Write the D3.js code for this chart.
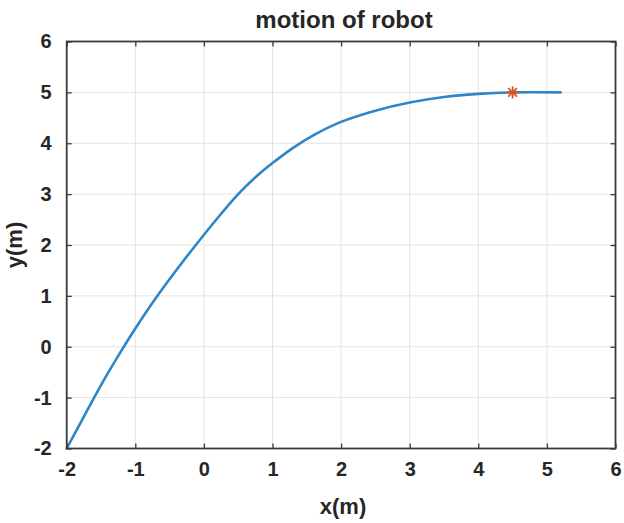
<!DOCTYPE html>
<html>
<head>
<meta charset="utf-8">
<script src="https://cdn.jsdelivr.net/npm/d3@7"></script>
<style>
  html, body { margin: 0; padding: 0; background: #fff; }
  svg { display: block; }
  text { font-family: "Liberation Sans", Arial, Helvetica, sans-serif; font-weight: bold; fill: #262626; }
</style>
</head>
<body>
<svg id="chart" width="624" height="523"></svg>
<script>
// Robot trajectory samples (x, y in metres)
const pathX = [-2.00, -1.80, -1.60, -1.40, -1.20, -1.00, -0.70, -0.40, -0.10, 0.20, 0.50, 0.80, 1.00, 1.30, 1.60, 2.00, 2.50, 3.00, 3.50, 4.00, 4.50, 5.20];
const pathY = [-2.00, -1.50, -1.00, -0.52, -0.07, 0.36, 0.96, 1.51, 2.03, 2.53, 3.00, 3.39, 3.61, 3.91, 4.16, 4.42, 4.64, 4.80, 4.91, 4.97, 5.00, 5.00];

// Goal point marked with an asterisk
const goalX = [4.5];
const goalY = [5.0];

// Axis ticks
const xTicks = [-2, -1, 0, 1, 2, 3, 4, 5, 6];
const yTicks = [-2, -1, 0, 1, 2, 3, 4, 5, 6];

const svg = d3.select("#chart");
const plot = { left: 66.7, right: 615.5, top: 41.5, bottom: 448.5 };

const x = d3.scaleLinear().domain([-2, 6]).range([plot.left, plot.right]);
const y = d3.scaleLinear().domain([-2, 6]).range([plot.bottom, plot.top]);

// Grid
const grid = svg.append("g").attr("stroke", "#e3e3e3").attr("stroke-width", 1);
grid.selectAll("line.gx").data(xTicks).join("line")
  .attr("x1", d => x(d)).attr("x2", d => x(d))
  .attr("y1", plot.top).attr("y2", plot.bottom);
grid.selectAll("line.gy").data(yTicks).join("line")
  .attr("y1", d => y(d)).attr("y2", d => y(d))
  .attr("x1", plot.left).attr("x2", plot.right);

// Trajectory
const pts = pathX.map((v, i) => [v, pathY[i]]);
const line = d3.line().x(d => x(d[0])).y(d => y(d[1])).curve(d3.curveCatmullRom.alpha(0.5));
svg.append("path").datum(pts)
  .attr("d", line)
  .attr("fill", "none")
  .attr("stroke", "#2d86c8")
  .attr("stroke-width", 2.6)
  .attr("stroke-linejoin", "round")
  .attr("stroke-linecap", "round");

// Goal asterisk
const star = svg.append("g").attr("stroke", "#d95319").attr("stroke-width", 1.8);
goalX.forEach((gx, i) => {
  const cx = x(gx), cy = y(goalY[i]), r = 6;
  star.append("line").attr("x1", cx - r).attr("x2", cx + r).attr("y1", cy).attr("y2", cy);
  star.append("line").attr("x1", cx).attr("x2", cx).attr("y1", cy - r).attr("y2", cy + r);
  star.append("line").attr("x1", cx - r * 0.72).attr("x2", cx + r * 0.72).attr("y1", cy - r * 0.72).attr("y2", cy + r * 0.72);
  star.append("line").attr("x1", cx - r * 0.72).attr("x2", cx + r * 0.72).attr("y1", cy + r * 0.72).attr("y2", cy - r * 0.72);
});

// Axes with inward ticks on all four sides
const tickLen = 5;
const axisColor = "#3a3a3a";
const fmt = d => String(d);
function styleAxis(g) {
  g.select(".domain").remove();
  g.selectAll(".tick line").attr("stroke", axisColor).attr("stroke-width", 1.3);
  g.selectAll(".tick text").attr("fill", "#262626")
    .style("font-size", "20px").style("font-weight", "bold");
}
svg.append("g").attr("transform", `translate(0,${plot.bottom})`)
  .call(d3.axisBottom(x).tickValues(xTicks).tickFormat(fmt).tickSizeInner(-tickLen).tickSizeOuter(0).tickPadding(13))
  .call(styleAxis);
svg.append("g").attr("transform", `translate(${plot.left},0)`)
  .call(d3.axisLeft(y).tickValues(yTicks).tickFormat(fmt).tickSizeInner(-tickLen).tickSizeOuter(0).tickPadding(15))
  .call(styleAxis);
svg.append("g").attr("transform", `translate(0,${plot.top})`)
  .call(d3.axisTop(x).tickValues(xTicks).tickFormat("").tickSizeInner(-tickLen).tickSizeOuter(0))
  .call(styleAxis);
svg.append("g").attr("transform", `translate(${plot.right},0)`)
  .call(d3.axisRight(y).tickValues(yTicks).tickFormat("").tickSizeInner(-tickLen).tickSizeOuter(0))
  .call(styleAxis);

// Box
svg.append("rect")
  .attr("x", plot.left).attr("y", plot.top)
  .attr("width", plot.right - plot.left).attr("height", plot.bottom - plot.top)
  .attr("fill", "none").attr("stroke", axisColor).attr("stroke-width", 1.8);

// Titles
svg.append("text").attr("x", 344).attr("y", 27.5)
  .attr("text-anchor", "middle").style("font-size", "24px").text("motion of robot");
svg.append("text").attr("x", 343).attr("y", 514)
  .attr("text-anchor", "middle").style("font-size", "22px").text("x(m)");
svg.append("text").attr("transform", "translate(22,245) rotate(-90)")
  .attr("text-anchor", "middle").style("font-size", "22px").text("y(m)");
</script>
</body>
</html>
